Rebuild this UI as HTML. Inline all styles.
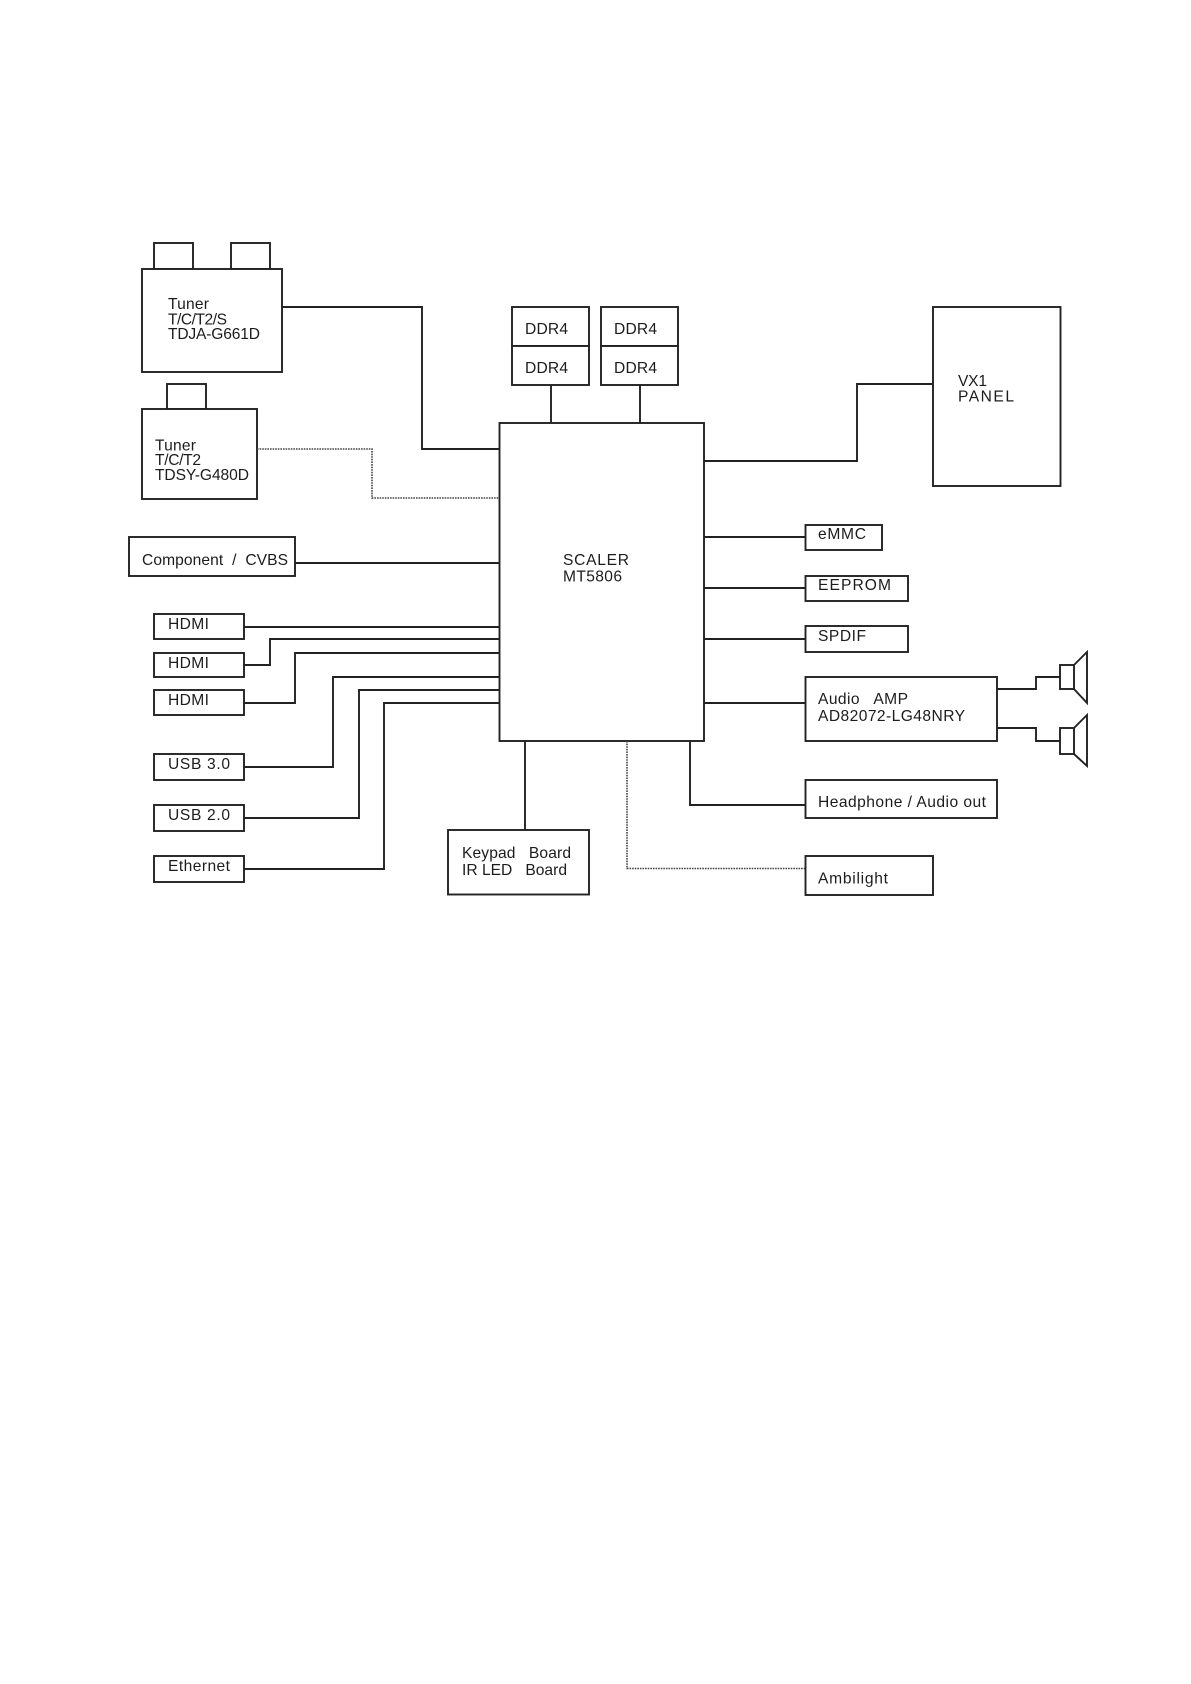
<!DOCTYPE html>
<html><head><meta charset="utf-8"><style>
html,body{margin:0;padding:0;background:#fff}
svg{display:block}
text{font-family:"Liberation Sans",Arial,sans-serif;font-size:15.6px;fill:#1c1c1c;white-space:pre}
.b{fill:#fff;stroke:#222;stroke-width:1.9}
.l{fill:none;stroke:#222;stroke-width:1.9}
.d{fill:none;stroke:#444;stroke-width:1.6;stroke-dasharray:1.6 1}
</style></head><body>
<svg width="1191" height="1684" viewBox="0 0 1191 1684" xmlns="http://www.w3.org/2000/svg">
<rect width="1191" height="1684" fill="#fff"/>
<!-- tuners -->
<rect class="b" x="154" y="243" width="39" height="26"/>
<rect class="b" x="231" y="243" width="39" height="26"/>
<rect class="b" x="142" y="269" width="140" height="103"/>
<rect class="b" x="167" y="384" width="39" height="25"/>
<rect class="b" x="142" y="409" width="115" height="90"/>
<text x="168" y="309" textLength="41">Tuner</text><text x="168" y="324.5" textLength="59">T/C/T2/S</text><text x="168" y="339" textLength="92">TDJA-G661D</text>
<text x="155" y="450.5" textLength="41">Tuner</text><text x="155" y="465" textLength="46">T/C/T2</text><text x="155" y="480" textLength="94">TDSY-G480D</text>
<!-- left boxes -->
<rect class="b" x="129" y="537" width="166" height="39"/>
<text x="142" y="565" textLength="146">Component  /  CVBS</text>
<rect class="b" x="154" y="614" width="90" height="25"/><text x="168" y="629" textLength="41">HDMI</text>
<rect class="b" x="154" y="653" width="90" height="24"/><text x="168" y="668" textLength="41">HDMI</text>
<rect class="b" x="154" y="690" width="90" height="25"/><text x="168" y="705" textLength="41">HDMI</text>
<rect class="b" x="154" y="754" width="90" height="26"/><text x="168" y="769" textLength="62">USB 3.0</text>
<rect class="b" x="154" y="805" width="90" height="26"/><text x="168" y="820" textLength="62">USB 2.0</text>
<rect class="b" x="154" y="856" width="90" height="26"/><text x="168" y="871" textLength="62">Ethernet</text>
<!-- connectors left -->
<path class="l" d="M282 307H422V449H499"/>
<path class="d" d="M257 449H372V498H499"/>
<path class="l" d="M295 563H499"/>
<path class="l" d="M244 627H499"/>
<path class="l" d="M244 665H270V639H499"/>
<path class="l" d="M244 703H295V653H499"/>
<path class="l" d="M244 767H333V677H499"/>
<path class="l" d="M244 818H359V690H499"/>
<path class="l" d="M244 869H384V703H499"/>
<!-- DDR -->
<rect class="b" x="512" y="307" width="77" height="39"/><rect class="b" x="512" y="346" width="77" height="39"/>
<rect class="b" x="601" y="307" width="77" height="39"/><rect class="b" x="601" y="346" width="77" height="39"/>
<text x="525" y="334" textLength="43">DDR4</text><text x="525" y="373" textLength="43">DDR4</text>
<text x="614" y="334" textLength="43">DDR4</text><text x="614" y="373" textLength="43">DDR4</text>
<path class="l" d="M551 385V423M640 385V423"/>
<!-- scaler -->
<rect class="b" x="499.500" y="423" width="204.500" height="318"/>
<text x="563" y="565" textLength="66">SCALER</text><text x="563" y="581.5" textLength="59">MT5806</text>
<!-- right -->
<path class="l" d="M704 461H857V384H933"/>
<rect class="b" x="933" y="307" width="127.500" height="179"/>
<text x="958" y="386" textLength="29">VX1</text><text x="958" y="401.5" textLength="56">PANEL</text>
<path class="l" d="M704 537H805.500M704 588H805.500M704 639H805.500M704 703H805.500"/>
<rect class="b" x="805.500" y="525" width="76.500" height="25"/><text x="818" y="539" textLength="48">eMMC</text>
<rect class="b" x="805.500" y="576" width="102.500" height="25"/><text x="818" y="590" textLength="73">EEPROM</text>
<rect class="b" x="805.500" y="626" width="102.500" height="26"/><text x="818" y="641" textLength="48">SPDIF</text>
<rect class="b" x="805.500" y="677" width="191.500" height="64"/>
<text x="818" y="704" textLength="90">Audio   AMP</text><text x="818" y="721" textLength="147">AD82072-LG48NRY</text>
<path class="l" d="M997 689H1036V677H1060"/>
<path class="l" d="M997 728H1036V741H1060"/>
<rect class="b" x="1060" y="665" width="14" height="24"/>
<path class="l" d="M1074 665L1087 652V703L1074 689"/>
<rect class="b" x="1060" y="728" width="14" height="26"/>
<path class="l" d="M1074 728L1087 715V766L1074 754"/>
<path class="l" d="M690 741V805H805.500"/>
<rect class="b" x="805.500" y="780" width="191.500" height="38"/>
<text x="818" y="807" textLength="168">Headphone / Audio out</text>
<path class="d" d="M627 741V868.500H805.500"/>
<rect class="b" x="805.500" y="856" width="127.500" height="39"/>
<text x="818" y="883.500" textLength="70">Ambilight</text>
<path class="l" d="M525 741V830"/>
<rect class="b" x="448" y="830" width="141" height="64.500"/>
<text x="462" y="858" textLength="109">Keypad   Board</text><text x="462" y="875" textLength="105">IR LED   Board</text>
</svg>
</body></html>
